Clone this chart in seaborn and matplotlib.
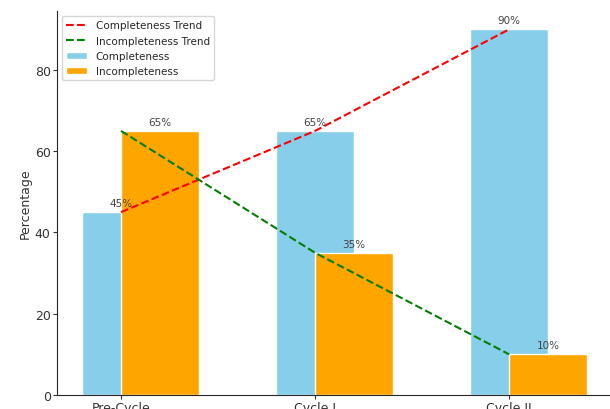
import seaborn as sns
import numpy as np
import matplotlib.pyplot as plt

stages = ["Pre-Cycle", "Cycle I", "Cycle II"]
completeness = [45, 65, 90]
incompleteness = [65, 35, 10]

sns.set_style("ticks")
plt.rcParams["font.family"] = ["DejaVu Sans"]

fig = plt.figure(figsize=(6.1, 4.1), dpi=100)
# the original picture is cropped on the right and bottom
ax = fig.add_axes([0.0934, 0.0341, 0.91, 0.9366])

x = np.arange(len(stages))
width = 0.4

ax.bar(x, completeness, width, color="skyblue", label="Completeness")
ax.bar(x + width / 2, incompleteness, width, color="orange", label="Incompleteness")

sns.lineplot(x=x, y=completeness, ax=ax, color="red", linestyle="--", label="Completeness Trend")
sns.lineplot(x=x, y=incompleteness, ax=ax, color="green", linestyle="--", label="Incompleteness Trend")

for i in range(len(stages)):
    ax.text(x[i], completeness[i] + 1, f"{completeness[i]}%", ha="center", va="bottom", fontsize=7.5, color="#444444")
    ax.text(x[i] + width / 2, incompleteness[i] + 1, f"{incompleteness[i]}%", ha="center", va="bottom", fontsize=7.5, color="#444444")

ax.set_xticks(x)
ax.set_xticklabels(stages, fontsize=9)
ax.tick_params(axis="both", labelsize=9, length=3, pad=1.5, color="#333333", labelcolor="#333333")
ax.set_ylabel("Percentage", fontsize=9, labelpad=2, color="#333333")
ax.legend(loc="upper left", fontsize=7.5)
sns.despine(ax=ax)

fig.savefig("out.png", dpi=100)
